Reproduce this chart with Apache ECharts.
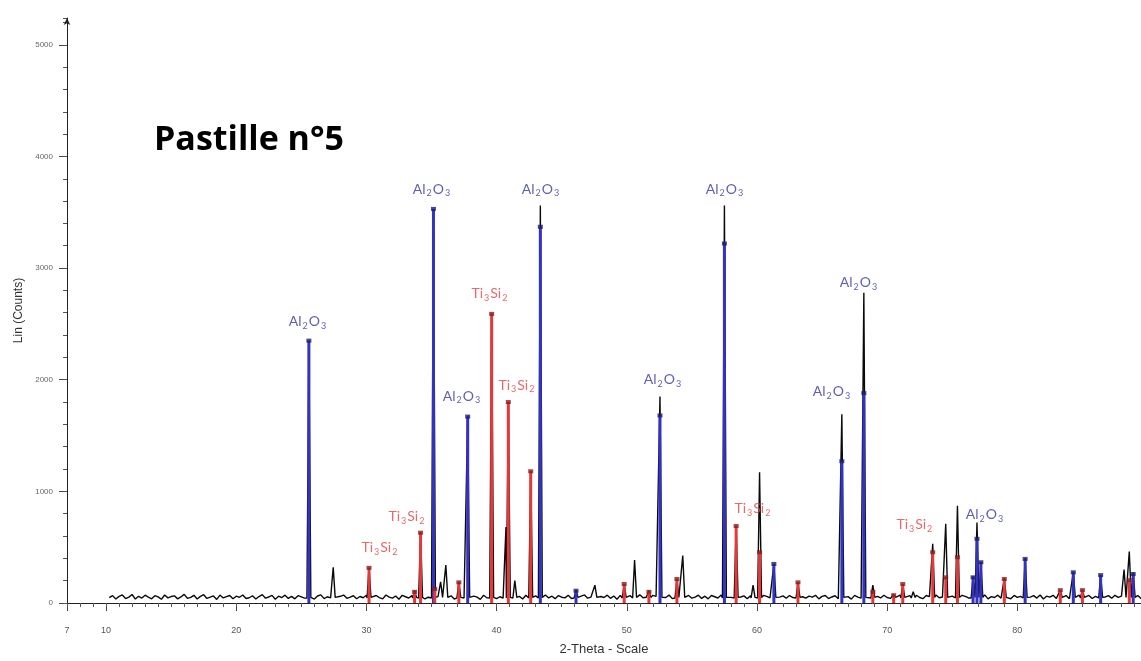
<!DOCTYPE html>
<html>
<head>
<meta charset="utf-8">
<script src="https://cdn.jsdelivr.net/npm/echarts@6/dist/echarts.min.js"></script>
<style>
html,body{margin:0;padding:0;background:#fff;}
#c{width:1141px;height:661px;}
</style>
</head>
<body>
<div id="c"></div>
<script>
// ---- measured pattern: baseline scan (start / step in 2-theta) ----
const thetaStart = 10.25;
const thetaStep = 0.25;
const baseline = [
48,66,36,59,72,40,53,76,35,60,44,70,52,38,66,55,33,72,46,58,
64,37,54,77,42,50,69,36,59,74,41,52,63,32,71,45,57,67,38,61,
51,72,40,47,65,36,58,75,43,54,68,34,61,49,70,41,59,37,66,55,
44,69,52,35,63,73,39,56,46,68,33,60,71,42,53,65,38,58,47,70,
61,40,67,49,37,72,53,43,63,34,69,56,45,66,39,59,74,36,52,68,
41,57,70,38,50,64,35,73,55,45,67,40,61,52,33,69,47,57,71,39,
56,43,68,50,38,66,59,36,70,49,42,64,53,34,72,45,61,39,67,52,
46,69,40,59,35,62,72,43,53,67,37,58,49,70,42,63,33,68,55,45,
66,38,56,73,47,52,36,69,59,41,62,49,71,39,51,65,34,58,68,43,
53,70,41,61,37,67,56,45,72,35,59,50,69,40,54,64,38,66,49,57,
39,68,59,45,71,36,53,64,42,67,49,33,70,56,43,61,52,69,37,59,
67,40,54,65,38,72,47,57,35,68,53,43,63,50,70,39,59,45,69,49,
41,62,52,71,36,55,66,43,69,49,39,67,57,34,72,47,54,68,40,61,
52,35,69,59,45,67,40,63,53,73,37,57,49,70,43,55,66,38,68,50,
59,70,39,53,66,44,72,36,61,52,69,41,56,47,67,38,63,54,71,43,
49,68,40,59,74,37,54,66,43,69,51,61,39,72,47,57,67,41,70,55
];

// ---- measured pattern: peaks (2-theta, counts) ----
const peakTheta  = [25.58,27.45,30.2,33.7,34.16,35.15,35.7,36.1,37.1,37.78,39.62,40.72,40.9,41.4,42.62,43.36,46.1,47.55,49.8,50.6,51.7,52.55,53.85,54.3,57.5,58.4,59.7,60.2,61.3,63.15,66.52,68.21,68.9,70.5,71.2,72.0,73.5,74.5,75.4,76.6,76.9,77.2,79.0,80.6,83.3,84.3,85.0,86.4,88.2,88.6,88.9];
const peakCounts = [2350,320,315,110,630,3500,190,340,190,1670,2590,680,1800,200,1180,3560,115,160,170,385,110,1850,215,425,3560,690,160,1170,350,185,1690,2780,160,75,170,100,530,710,870,240,720,370,220,400,115,280,120,250,300,460,270];

// ---- reference sticks ----
const al2o3Theta  = [25.58,35.15,37.78,43.36,46.1,52.55,57.5,61.3,66.52,68.21,76.6,76.9,77.2,80.6,84.3,86.4,88.9];
const al2o3Counts = [2350,3530,1670,3370,110,1680,3220,350,1270,1880,230,575,365,395,275,250,260];
const tiSiTheta  = [30.2,33.7,34.16,35.25,37.1,39.62,40.9,42.62,49.8,51.7,53.85,58.4,60.2,63.15,68.9,70.5,71.2,73.5,74.5,75.4,79.0,83.3,85.0,88.6];
const tiSiCounts = [315,100,630,125,185,2590,1800,1180,170,100,215,690,455,185,100,70,170,455,230,410,215,115,115,205];

// ---- phase labels ----
const labelPhase  = ['Al','Al','Ti','Al','Ti','Al','Al','Al','Al','Al','Ti','Ti','Ti','Ti','Al'];
const labelTheta  = [25.51,35.03,39.49,37.34,41.56,43.41,52.78,57.54,67.83,65.76,59.69,33.11,31.04,72.13,77.51];
const labelCounts = [2522,3708,2772,1854,1952,3708,2005,3708,2870,1898,847,775,499,704,793];

// ---- axis ticks ----
const yTickInterval = 1000;
const yMinorInterval = 200;
const xMin = 7, xMax = 89.5, yMax = 5240;

// build the measured line (baseline + peak triangles)
const halfW = 0.15;
const pattern = [];
baseline.forEach((v, i) => {
  const t = +(thetaStart + i * thetaStep).toFixed(3);
  const inPeak = peakTheta.some(p => Math.abs(t - p) < halfW + 0.01);
  if (!inPeak) pattern.push([t, v]);
});
peakTheta.forEach((p, i) => {
  pattern.push([+(p - halfW).toFixed(3), 45]);
  pattern.push([p, peakCounts[i]]);
  pattern.push([+(p + halfW).toFixed(3), 50]);
});
pattern.sort((a, b) => a[0] - b[0]);

const BLUE = '#3232c4', RED = '#e63838';
const LBLUE = '#3636a4', LRED = '#e04448';

const richStyles = {
  a: {fontSize: 14, fontFamily: 'Lato', color: LBLUE},
  as: {fontSize: 9, fontFamily: 'Lato', color: LBLUE, padding: [9, 1, 0, 1]},
  t: {fontSize: 14, fontFamily: 'Lato', color: LRED},
  ts: {fontSize: 9, fontFamily: 'Lato', color: LRED, padding: [9, 1, 0, 1]}
};

const chart = echarts.init(document.getElementById('c'), null, {renderer: 'canvas'});
chart.setOption({
  animation: false,
  backgroundColor: '#fff',
  title: {
    text: 'Pastille n°5', left: 149, top: 118,
    textStyle: {fontFamily: 'Open Sans', fontWeight: 'bold', fontSize: 34, color: '#000'}
  },
  grid: {left: 67, right: 0, top: 18, bottom: 55, containLabel: false},
  xAxis: [{
    type: 'value', min: xMin, max: xMax, splitNumber: 8, position: 'bottom',
    name: '2-Theta - Scale', nameLocation: 'middle', nameGap: 40,
    nameTextStyle: {fontFamily: 'Liberation Sans', fontSize: 13, color: '#333'},
    axisLine: {lineStyle: {color: '#222', width: 1}},
    axisTick: {length: 8, lineStyle: {color: '#444'}},
    axisLabel: {fontFamily: 'Liberation Sans', fontSize: 9, color: '#555', margin: 23, showMaxLabel: false,
                formatter: v => String(v)},
    splitLine: {show: false}
  }, {
    type: 'value', min: xMin, max: xMax, interval: 1, position: 'bottom',
    axisLine: {show: false},
    axisTick: {length: 4, lineStyle: {color: '#555'}},
    axisLabel: {show: false},
    splitLine: {show: false}
  }],
  yAxis: [{
    type: 'value', min: 0, max: yMax, interval: yTickInterval, position: 'left',
    name: 'Lin (Counts)', nameLocation: 'middle', nameGap: 33,
    nameTextStyle: {fontFamily: 'Liberation Sans', fontSize: 12, color: '#333'},
    axisLine: {show: true, lineStyle: {color: '#222', width: 1}, symbol: ['none', 'arrow'], symbolSize: [5, 7]},
    axisTick: {show: true, length: 8, lineStyle: {color: '#444'}},
    axisLabel: {fontFamily: 'Liberation Sans', fontSize: 8, color: '#666', margin: 14, showMaxLabel: false,
                formatter: v => String(v)},
    splitLine: {show: false}
  }, {
    type: 'value', min: 0, max: yMax, interval: yMinorInterval, position: 'left', offset: 0,
    axisLine: {show: false},
    axisTick: {show: true, length: 4, lineStyle: {color: '#555'}},
    axisLabel: {show: false},
    splitLine: {show: false}
  }],
  series: [{
    name: 'pattern', type: 'line', data: pattern, showSymbol: false, symbol: 'none',
    lineStyle: {color: '#0a0a0a', width: 1.4}, z: 2
  }, {
    name: 'Al2O3', type: 'bar', barWidth: 3, barGap: '-100%',
    data: al2o3Theta.map((t, i) => [t, al2o3Counts[i]]),
    itemStyle: {color: BLUE}, z: 3
  }, {
    name: 'Ti3Si2', type: 'bar', barWidth: 3, barGap: '-100%',
    data: tiSiTheta.map((t, i) => [t, tiSiCounts[i]]),
    itemStyle: {color: RED}, z: 3
  }, {
    name: 'Al2O3 marks', type: 'scatter', symbol: 'rect', symbolSize: [5, 4],
    data: al2o3Theta.map((t, i) => [t, al2o3Counts[i]]),
    itemStyle: {color: '#1c1c6e'}, z: 4
  }, {
    name: 'Ti3Si2 marks', type: 'scatter', symbol: 'rect', symbolSize: [5, 4],
    data: tiSiTheta.map((t, i) => [t, tiSiCounts[i]]),
    itemStyle: {color: '#8a1c1c'}, z: 4
  }, {
    name: 'labels', type: 'scatter', symbolSize: 0, z: 5,
    data: labelTheta.map((t, i) => ({value: [t, labelCounts[i]], phase: labelPhase[i]})),
    label: {
      show: true, position: 'inside',
      formatter: p => p.data.phase === 'Al' ? '{a|Al}{as|2}{a|O}{as|3}' : '{t|Ti}{ts|3}{t|Si}{ts|2}',
      rich: richStyles
    }
  }]
});
</script>
</body>
</html>
